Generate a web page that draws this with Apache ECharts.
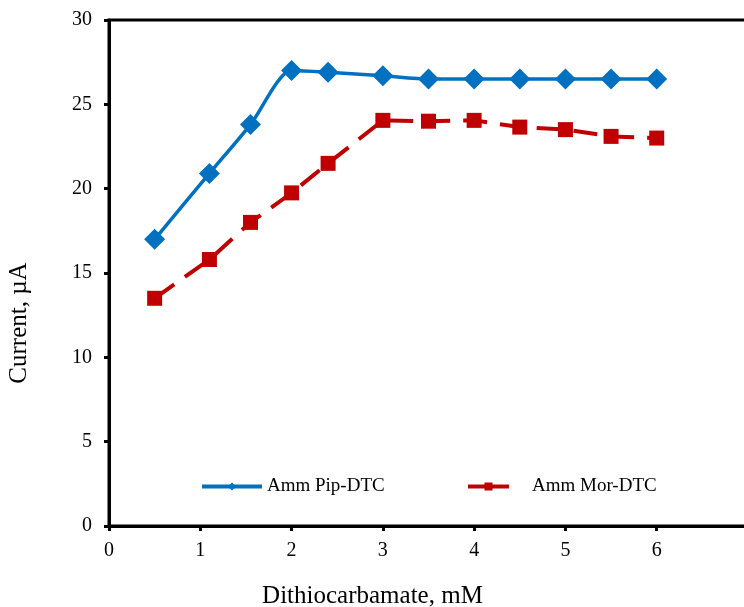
<!DOCTYPE html>
<html><head><meta charset="utf-8">
<script src="https://cdn.jsdelivr.net/npm/echarts@6/dist/echarts.min.js"></script>
<style>html,body{margin:0;padding:0;background:#fff}#c{width:744px;height:607px}</style>
</head><body><div id="c"></div>
<script>
const xPip = [0.5, 1.1, 1.55, 2.0, 2.4, 3.0, 3.5, 4.0, 4.5, 5.0, 5.5, 6.0];
const yPip = [17.0, 20.9, 23.8, 27.0, 26.9, 26.7, 26.5, 26.5, 26.5, 26.5, 26.5, 26.5];
const xMor = [0.5, 1.1, 1.55, 2.0, 2.4, 3.0, 3.5, 4.0, 4.5, 5.0, 5.5, 6.0];
const yMor = [13.5, 15.8, 18.0, 19.75, 21.5, 24.05, 24.0, 24.05, 23.65, 23.5, 23.1, 23.0];
const seriesNames = ['Amm Pip-DTC', 'Amm Mor-DTC'];
const xTitle = 'Dithiocarbamate, mM';
const yTitle = 'Current, µA';

const font = 'Liberation Serif, Times New Roman, serif';
const chart = echarts.init(document.getElementById('c'));
chart.setOption({
  animation: false,
  grid: {left: 109, top: 20, width: 639, height: 506, show: true, borderColor: '#000', borderWidth: 3, backgroundColor: 'transparent', containLabel: false, outerBoundsMode: 'none'},
  legend: [
    {data: [seriesNames[0]], left: 200, top: 477, padding: 0, itemWidth: 60, itemHeight: 10, textStyle: {fontFamily: font, fontSize: 19, color: '#000'}, lineStyle: {type: 'solid', width: 4}},
    {data: [seriesNames[1]], left: 466, top: 477, padding: 0, itemWidth: 41, itemHeight: 10, textStyle: {fontFamily: font, fontSize: 19, color: '#000', padding: [0, 0, 0, 18]}, lineStyle: {type: 'solid', width: 4}}
  ],
  xAxis: {
    type: 'value', min: 0, max: 7, interval: 1,
    name: xTitle, nameLocation: 'middle', nameGap: 58,
    nameTextStyle: {fontFamily: font, fontSize: 25, color: '#000', padding: [0, 112, 0, 0]},
    axisLine: {show: true, onZero: false, lineStyle: {color: '#000', width: 3}},
    axisTick: {show: true, length: 5, lineStyle: {color: '#000', width: 3}},
    axisLabel: {fontFamily: font, fontSize: 20, color: '#000', margin: 15, showMaxLabel: true, hideOverlap: false},
    splitLine: {show: false}
  },
  yAxis: {
    type: 'value', min: 0, max: 30, interval: 5,
    name: yTitle, nameLocation: 'middle', nameGap: 77, nameRotate: 90,
    nameTextStyle: {fontFamily: font, fontSize: 25, color: '#000', padding: [0, 100, 0, 0]},
    axisLine: {show: true, lineStyle: {color: '#000', width: 3}},
    axisTick: {show: true, length: 5, lineStyle: {color: '#000', width: 3}},
    axisLabel: {fontFamily: font, fontSize: 20, color: '#000', margin: 17},
    splitLine: {show: false}
  },
  series: [
    {
      name: seriesNames[0], type: 'line', smooth: 0.25,
      data: xPip.map((x, i) => [x, yPip[i]]),
      symbol: 'diamond', symbolSize: 21,
      lineStyle: {color: '#0070C0', width: 3.5},
      itemStyle: {color: '#0070C0'}
    },
    {
      name: seriesNames[1], type: 'line',
      data: xMor.map((x, i) => [x, yMor[i]]),
      symbol: 'rect', symbolSize: 15,
      lineStyle: {color: '#C00000', width: 4, type: [24, 13]},
      itemStyle: {color: '#C00000'}
    }
  ]
});
</script></body></html>
